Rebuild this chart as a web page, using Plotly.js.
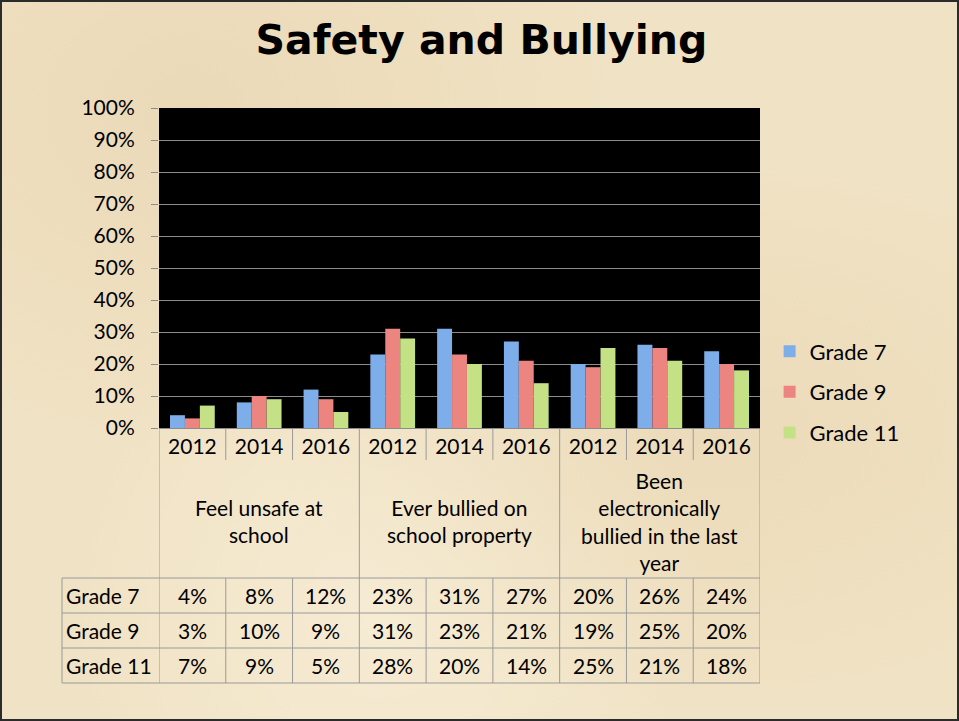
<!DOCTYPE html>
<html>
<head>
<meta charset="utf-8">
<script src="https://cdn.plot.ly/plotly-3.0.1.min.js"></script>
<style>
  html, body { margin: 0; padding: 0; }
  #wrap { position: relative; width: 959px; height: 721px; }
  #chart {
    width: 959px; height: 721px;
    background:
      radial-gradient(ellipse at 20% 15%, rgba(222,198,155,0.3), rgba(0,0,0,0) 40%),
      radial-gradient(ellipse at 75% 60%, rgba(222,198,155,0.25), rgba(0,0,0,0) 45%),
      radial-gradient(ellipse at 40% 85%, rgba(255,250,235,0.4), rgba(0,0,0,0) 40%),
      #f0e2c4;
  }
  #frame {
    position: absolute; left: 0; top: 0; width: 959px; height: 721px;
    box-sizing: border-box; border: 2px solid #2b2b2b; pointer-events: none;
  }
</style>
</head>
<body>
<div id="wrap">
  <div id="chart"></div>
  <div id="frame"></div>
</div>
<script>
const years = ['2012', '2014', '2016', '2012', '2014', '2016', '2012', '2014', '2016'];
const groups = ['Feel unsafe at<br>school', 'Ever bullied on<br>school property', 'Been<br>electronically<br>bullied in the last<br>year'];
const seriesNames = ['Grade 7', 'Grade 9', 'Grade 11'];
const grade7 = [4, 8, 12, 23, 31, 27, 20, 26, 24];
const grade9 = [3, 10, 9, 31, 23, 21, 19, 25, 20];
const grade11 = [7, 9, 5, 28, 20, 14, 25, 21, 18];
const colors = ['#7eaeea', '#ec8480', '#c5e186'];

const seriesValues = [grade7, grade9, grade11];
const xIndex = years.map((year, i) => i);
const font = 'Lato, "Open Sans", sans-serif';
const lineColor = '#9a9a9a';
const textSize = 21;

// paper y positions of the table rows (plot area is 320px tall)
const rowTop = -150 / 320;
const rowHeight = 35 / 320;
const yearRowBottom = -32 / 320;
const tableLeft = -97 / 601;

const traces = seriesValues.map((values, s) => ({
  type: 'bar',
  name: seriesNames[s],
  legendgroup: seriesNames[s],
  x: xIndex,
  y: values.map((v) => v / 100),
  marker: { color: colors[s] },
  hoverinfo: 'skip',
}));

const annotations = [];

groups.forEach((label, g) => {
  annotations.push({
    x: g * 3 + 1, xref: 'x',
    y: -93 / 320, yref: 'paper',
    text: label, showarrow: false,
    font: { family: font, size: textSize, color: '#000' },
    xanchor: 'center', yanchor: 'middle',
  });
});

seriesValues.forEach((values, s) => {
  const yMid = rowTop - rowHeight * (s + 0.5);
  annotations.push({
    x: tableLeft + 2 / 601, xref: 'paper',
    y: yMid, yref: 'paper',
    text: seriesNames[s], showarrow: false,
    font: { family: font, size: textSize, color: '#000' },
    xanchor: 'left', yanchor: 'middle',
  });
  values.forEach((v, i) => {
    annotations.push({
      x: i, xref: 'x',
      y: yMid, yref: 'paper',
      text: v + '%', showarrow: false,
      font: { family: font, size: textSize, color: '#000' },
      xanchor: 'center', yanchor: 'middle',
    });
  });
});

const shapes = [];
for (let r = 0; r <= 3; r++) {
  const y = rowTop - rowHeight * r;
  shapes.push({
    type: 'line', xref: 'paper', yref: 'paper',
    x0: tableLeft, x1: 1, y0: y, y1: y,
    line: { color: lineColor, width: 1 },
  });
}
shapes.push({
  type: 'line', xref: 'paper', yref: 'paper',
  x0: tableLeft, x1: tableLeft, y0: rowTop, y1: rowTop - rowHeight * 3,
  line: { color: lineColor, width: 1 },
});
for (let k = 0; k <= years.length; k++) {
  const x = k - 0.5;
  if (k % 3 === 0) {
    shapes.push({
      type: 'line', xref: 'x', yref: 'paper',
      x0: x, x1: x, y0: 0, y1: rowTop - rowHeight * 3,
      line: { color: lineColor, width: 1 },
    });
  } else {
    shapes.push({
      type: 'line', xref: 'x', yref: 'paper',
      x0: x, x1: x, y0: 0, y1: yearRowBottom,
      line: { color: lineColor, width: 1 },
    });
    shapes.push({
      type: 'line', xref: 'x', yref: 'paper',
      x0: x, x1: x, y0: rowTop, y1: rowTop - rowHeight * 3,
      line: { color: lineColor, width: 1 },
    });
  }
}

const layout = {
  width: 959,
  height: 721,
  paper_bgcolor: 'rgba(0,0,0,0)',
  plot_bgcolor: '#000000',
  margin: { l: 159, r: 199, t: 108, b: 293 },
  font: { family: font, size: textSize, color: '#000' },
  title: {
    text: '<b>Safety and Bullying</b>',
    font: { family: '"Comic Sans MS", "DejaVu Sans", sans-serif', size: 41, color: '#000' },
    x: 0.502, xanchor: 'center', xref: 'container',
    y: 0.945, yanchor: 'middle', yref: 'container',
  },
  barmode: 'group',
  bargap: 0.33,
  bargroupgap: 0,
  showlegend: true,
  legend: {
    x: 1.016, xanchor: 'left',
    y: 0.305, yanchor: 'top',
    font: { family: font, size: 22, color: '#000' },
    bgcolor: 'rgba(0,0,0,0)',
    traceorder: 'grouped',
    tracegroupgap: 9,
  },
  xaxis: {
    range: [-0.5, years.length - 0.5],
    tickvals: xIndex,
    ticktext: years,
    ticks: '',
    showgrid: false,
    showline: true,
    linecolor: '#8c8c8c',
    zeroline: false,
    tickfont: { family: font, size: textSize, color: '#000' },
    fixedrange: true,
  },
  yaxis: {
    range: [0, 1],
    dtick: 0.1,
    tickformat: '.0%',
    ticks: 'outside',
    ticklen: 7,
    tickcolor: '#8c8c8c',
    ticklabelstandoff: 12,
    showgrid: true,
    gridcolor: '#8c8c8c',
    zeroline: false,
    showline: false,
    tickfont: { family: font, size: textSize, color: '#000' },
    fixedrange: true,
  },
  annotations,
  shapes,
};

Plotly.newPlot('chart', traces, layout, { displayModeBar: false, staticPlot: true });
</script>
</body>
</html>
